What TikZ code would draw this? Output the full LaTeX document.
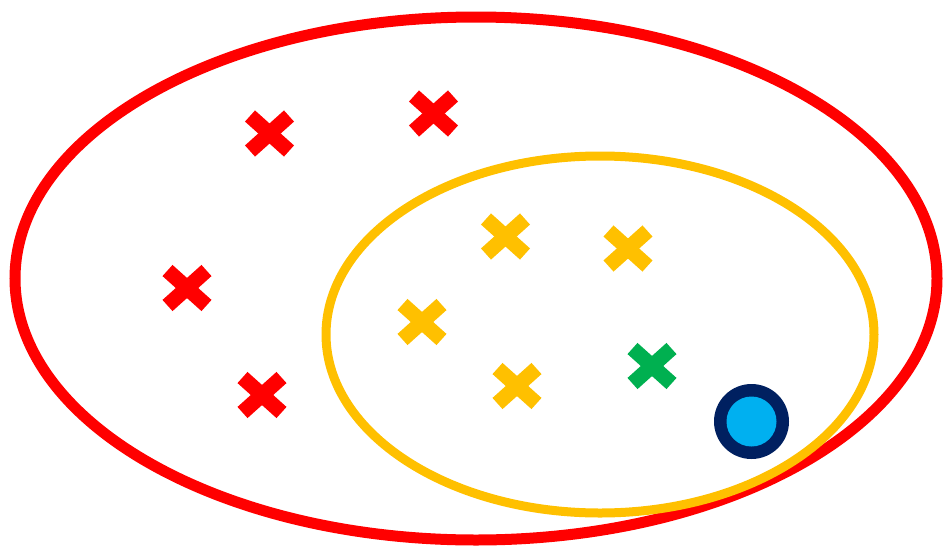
\documentclass[tikz,border=0pt]{standalone}
\begin{document}
\begin{tikzpicture}[x=1pt,y=-1pt,
  crossmark/.style={line width=15pt},
]
\definecolor{cred}{HTML}{FF0000}
\definecolor{cyel}{HTML}{FFC000}
\definecolor{cgrn}{HTML}{00B050}
\definecolor{cblu}{HTML}{00B0F0}
\definecolor{cnav}{HTML}{002060}
\useasboundingbox (0,0) rectangle (943,547);
\draw[cred,line width=11pt] (476,278.5) ellipse [x radius=461, y radius=261.5];
\draw[cyel,line width=9pt] (600,334.5) ellipse [x radius=274, y radius=178.5];
\newcommand{\xmark}[3]{%
  \draw[crossmark,#3] (#1-19.5,#2-17.5) -- (#1+19.5,#2+17.5);
  \draw[crossmark,#3] (#1-19.5,#2+17.5) -- (#1+19.5,#2-17.5);}
\xmark{269.5}{133.5}{cred}
\xmark{433.5}{113.5}{cred}
\xmark{187}{288}{cred}
\xmark{262}{395}{cred}
\xmark{505.5}{236.5}{cyel}
\xmark{628}{248.5}{cyel}
\xmark{422}{322}{cyel}
\xmark{517}{386}{cyel}
\xmark{652}{366}{cgrn}
\fill[cnav] (751.5,421.5) circle [radius=37.5];
\fill[cblu] (751.5,421.5) circle [radius=25];
\end{tikzpicture}
\end{document}
